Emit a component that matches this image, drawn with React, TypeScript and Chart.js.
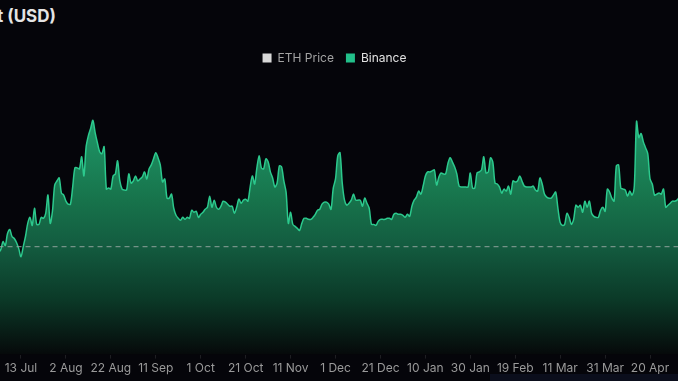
import React, { useEffect, useRef } from "react";
import { Chart, registerables } from "chart.js";

Chart.register(...registerables);

// Day offsets relative to 13 Jul (day 0); one value per day
const firstDay = -10;
const tickDays = [0, 20, 40, 60, 80, 100, 120, 140, 160, 180, 200, 220, 240, 260, 280];
const tickLabels = [
  "13 Jul", "2 Aug", "22 Aug", "11 Sep", "1 Oct", "21 Oct", "11 Nov", "1 Dec",
  "21 Dec", "10 Jan", "30 Jan", "19 Feb", "11 Mar", "31 Mar", "20 Apr",
];

const binance = [
  104,
  107, 115, 111, 123, 127, 120, 118, 114, 108,
  100, 110, 120, 133, 139, 131, 148, 132, 132, 139,
  138, 143, 161, 133, 145, 171, 175, 178, 163, 161,
  155, 152, 152, 169, 188, 188, 187, 199, 180, 209,
  220, 227, 235, 223, 213, 204, 202, 209, 167, 168,
  167, 180, 182, 195, 175, 167, 166, 166, 182, 173,
  175, 180, 175, 177, 179, 184, 177, 187, 191, 197,
  203, 198, 191, 174, 177, 158, 158, 162, 148, 141,
  138, 136, 139, 137, 139, 138, 146, 144, 145, 139,
  142, 144, 147, 149, 160, 149, 156, 149, 147, 150,
  155, 154, 152, 150, 150, 143, 149, 157, 153, 156,
  157, 155, 169, 180, 172, 188, 200, 188, 187, 197,
  194, 184, 178, 169, 173, 190, 189, 175, 164, 133,
  144, 132, 130, 128, 126, 133, 138, 138, 137, 137,
  139, 142, 146, 147, 152, 154, 154, 152, 147, 168,
  177, 200, 203, 173, 156, 151, 153, 156, 162, 156,
  156, 156, 150, 158, 153, 148, 132, 132, 131, 135,
  137, 137, 137, 138, 138, 137, 142, 143, 142, 142,
  141, 139, 142, 140, 150, 156, 159, 165, 162, 170,
  180, 184, 184, 185, 186, 171, 179, 183, 182, 182,
  192, 198, 194, 189, 182, 170, 169, 169, 169, 169,
  183, 168, 168, 183, 184, 186, 199, 183, 184, 198,
  194, 173, 172, 169, 163, 167, 165, 170, 162, 175,
  174, 175, 180, 175, 170, 169, 169, 169, 170, 166,
  165, 178, 172, 162, 159, 158, 158, 161, 164, 148,
  134, 131, 132, 143, 139, 132, 137, 151, 149, 151,
  144, 155, 149, 155, 143, 140, 139, 139, 146, 149,
  145, 167, 164, 158, 155, 190, 191, 168, 167, 166,
  160, 165, 161, 170, 234, 218, 222, 214, 208, 202,
  177, 172, 161, 162, 163, 162, 167, 149, 151, 153,
  155, 155, 156, 159,
];

const ethPriceLevel = [110, 110];

const X_MIN = -13.35;
const X_MAX = 292.45;
const Y_MIN = 3;
const Y_MAX = 281;

export default function App() {
  const ref = useRef<HTMLCanvasElement | null>(null);

  useEffect(() => {
    document.body.style.margin = "0";
    document.body.style.background = "#05050a";
    const canvas = ref.current;
    if (!canvas) return;
    Chart.defaults.font.family = "Inter, 'Noto Sans', sans-serif";

    const binancePts = binance.map((v, i) => ({ x: firstDay + i, y: v }));
    const lastDay = firstDay + binance.length - 1;
    const ethPts = [
      { x: firstDay, y: ethPriceLevel[0] },
      { x: lastDay, y: ethPriceLevel[1] },
    ];

    const chart = new Chart(canvas, {
      type: "line",
      data: {
        datasets: [
          {
            label: "ETH Price",
            data: ethPts,
            borderColor: "rgba(150,165,160,0.75)",
            backgroundColor: "#d9d9d9",
            borderWidth: 1.3,
            borderDash: [5, 4],
            pointRadius: 0,
            fill: false,
            tension: 0,
          },
          {
            label: "Binance",
            data: binancePts,
            borderColor: "#2cc98d",
            borderWidth: 1.5,
            pointRadius: 0,
            tension: 0.3,
            fill: "start",
            backgroundColor: (c: any) => {
              const ch = c.chart;
              const a = ch.chartArea;
              if (!a) return "rgba(30,140,95,0.6)";
              const g = ch.ctx.createLinearGradient(0, a.top, 0, a.bottom);
              g.addColorStop(0, "#23ab79");
              g.addColorStop(0.16, "#1f9869");
              g.addColorStop(0.45, "#17734b");
              g.addColorStop(0.61, "#135c40");
              g.addColorStop(0.8, "#0b3a28");
              g.addColorStop(1, "#06090a");
              return g;
            },
          },
        ],
      },
      options: {
        animation: false,
        responsive: false,
        events: [],
        layout: { padding: { top: 40, bottom: 2, left: 0, right: 0 } },
        plugins: {
          title: { display: false },
          tooltip: { enabled: false },
          legend: {
            display: true,
            position: "top",
            labels: {
              boxWidth: 9,
              boxHeight: 9,
              padding: 12,
              font: { size: 12 },
              generateLabels: (ch: any) =>
                ch.data.datasets.map((ds: any, i: number) => ({
                  text: ds.label,
                  fillStyle: i === 0 ? "#d9d9d9" : "#22c08a",
                  strokeStyle: "transparent",
                  lineWidth: 0,
                  fontColor: i === 0 ? "#a3a3a3" : "#e2e2e2",
                  hidden: false,
                  datasetIndex: i,
                })),
            },
          },
        },
        scales: {
          x: {
            type: "linear",
            min: X_MIN,
            max: X_MAX,
            afterBuildTicks: (scale: any) => {
              scale.ticks = tickDays.map((v) => ({ value: v }));
            },
            ticks: {
              autoSkip: false,
              maxRotation: 0,
              color: "#9a9a9a",
              font: { size: 12 },
              padding: 3,
              callback: (v: any) => {
                const idx = tickDays.indexOf(Number(v));
                return idx >= 0 ? tickLabels[idx] : null;
              },
            },
            grid: {
              display: true,
              drawOnChartArea: false,
              drawTicks: true,
              tickLength: 4,
              color: "rgba(255,255,255,0.10)",
            },
            border: { display: false },
          },
          y: {
            display: false,
            min: Y_MIN,
            max: Y_MAX,
          },
        },
      },
    });

    return () => chart.destroy();
  }, []);

  return (
    <div style={{ position: "fixed", left: 0, top: 0, width: 678, height: 381, overflow: "hidden", background: "#05050a" }}>
      <div
        style={{
          position: "absolute",
          left: -3,
          top: 6,
          color: "#e4e4e4",
          font: "bold 17px Inter, 'Noto Sans', sans-serif",
          whiteSpace: "nowrap",
        }}
      >
        t (USD)
      </div>
      <canvas ref={ref} width={687} height={381} style={{ position: "absolute", left: -9, top: 0 }} />
      <div style={{ position: "absolute", left: 490, top: 374, width: 188, height: 7, background: "#0b0e1c" }} />
    </div>
  );
}
